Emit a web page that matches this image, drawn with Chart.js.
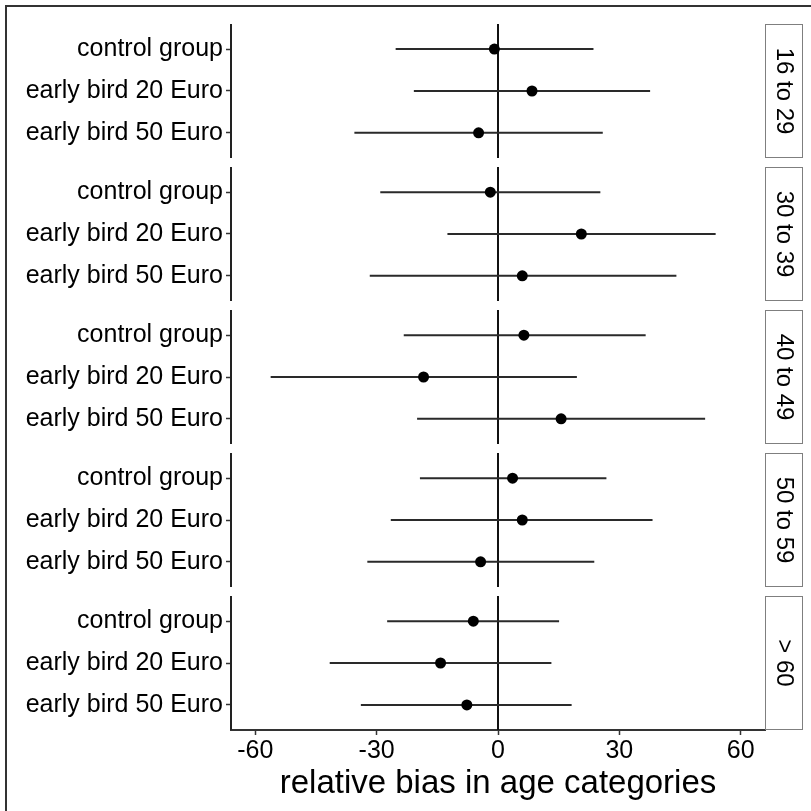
<!DOCTYPE html>
<html>
<head>
<meta charset="utf-8">
<script src="https://cdn.jsdelivr.net/npm/chart.js@4.4.0/dist/chart.umd.min.js"></script>
<style>
body { margin: 0; background: #fff; }
#wrap { position: relative; width: 811px; height: 811px; }
</style>
</head>
<body>
<div id="wrap"><canvas id="myChart" width="811" height="811"></canvas></div>
<script>
// facet rows (age categories) and the groups inside each facet
var ageGroups = ['16 to 29', '30 to 39', '40 to 49', '50 to 59', '> 60']
var groups = ['control group', 'early bird 20 Euro', 'early bird 50 Euro']

// values per facet, in the order of groups
var estimate = [
    -0.9, 8.4, -4.8,
    -1.9, 20.6, 6.0,
    6.4, -18.4, 15.6,
    3.6, 6.0, -4.3,
    -6.1, -14.2, -7.7
]
var lower = [
    -25.3, -20.8, -35.5,
    -29.1, -12.5, -31.7,
    -23.3, -56.2, -20.0,
    -19.3, -26.5, -32.3,
    -27.4, -41.6, -33.9
]
var upper = [
    23.6, 37.6, 25.9,
    25.3, 53.8, 44.1,
    36.5, 19.5, 51.2,
    26.8, 38.2, 23.8,
    15.1, 13.2, 18.2
]
var xTicks = [-60, -30, 0, 30, 60]

// facet layout on the y scale (units of one row)
var PANEL = 3.2
var GAP = 0.215
var TOTAL = ageGroups.length * PANEL + (ageGroups.length - 1) * GAP

Chart.defaults.font.family = "'Liberation Sans', Arial, sans-serif"

function panelStart(p) { return p * (PANEL + GAP) }
function rowY(i) { return panelStart(Math.floor(i / 3)) + 0.6 + (i % 3) }

var points = estimate.map((v, i) => ({ x: v, y: rowY(i) }))
var bars = []
lower.forEach((lo, i) => {
    bars.push({ x: lo, y: rowY(i) }, { x: upper[i], y: rowY(i) }, { x: 0, y: null })
})
var zeroLine = []
ageGroups.forEach((g, p) => {
    zeroLine.push({ x: 0, y: panelStart(p) }, { x: 0, y: panelStart(p) + PANEL }, { x: 0, y: null })
})
var rowTicks = estimate.map((v, i) => rowY(i))

var facetPlugin = {
    id: 'facets',
    beforeDraw(chart) {
        let c = chart.ctx
        c.save()
        c.strokeStyle = '#333'
        c.lineWidth = 2
        c.beginPath()
        c.moveTo(6, 811); c.lineTo(6, 6); c.lineTo(811, 6)
        c.stroke()
        c.restore()
    },
    afterDraw(chart) {
        let c = chart.ctx
        let y = chart.scales.y
        let area = chart.chartArea
        c.save()
        ageGroups.forEach((name, p) => {
            let top = y.getPixelForValue(panelStart(p))
            let bot = y.getPixelForValue(panelStart(p) + PANEL)
            // left axis line of the panel
            c.strokeStyle = '#222'
            c.lineWidth = 2
            c.beginPath()
            c.moveTo(area.left, top); c.lineTo(area.left, bot)
            c.stroke()
            // strip on the right
            c.strokeStyle = '#7f7f7f'
            c.lineWidth = 1
            c.fillStyle = '#fff'
            c.fillRect(area.right + 0.5, top + 0.5, 37, bot - top - 1)
            c.strokeRect(area.right + 0.5, top + 0.5, 37, bot - top - 1)
            c.fillStyle = '#000'
            c.font = "24px 'Liberation Sans', Arial, sans-serif"
            c.textAlign = 'center'
            c.textBaseline = 'middle'
            c.translate(area.right + 19, (top + bot) / 2)
            c.rotate(Math.PI / 2)
            c.fillText(name, 0, 0)
            c.setTransform(1, 0, 0, 1, 0, 0)
        })
        c.restore()
    }
}

var ctx = document.getElementById('myChart').getContext('2d')
var myChart = new Chart(ctx, {
    type: 'scatter',
    data: {
        datasets: [
            {
                data: points,
                backgroundColor: '#000',
                borderWidth: 0,
                pointRadius: 5.5
            },
            {
                data: bars,
                showLine: true,
                borderColor: '#2a2a2a',
                borderWidth: 2,
                pointRadius: 0,
                spanGaps: false
            },
            {
                data: zeroLine,
                showLine: true,
                borderColor: '#111',
                borderWidth: 2,
                pointRadius: 0,
                spanGaps: false
            }
        ]
    },
    options: {
        responsive: false,
        animation: false,
        devicePixelRatio: 1,
        layout: { padding: { top: 24, right: 46, left: 0, bottom: 0 } },
        plugins: { legend: { display: false }, tooltip: { enabled: false } },
        scales: {
            x: {
                type: 'linear',
                min: -66,
                max: 66,
                afterBuildTicks: a => { a.ticks = xTicks.map(v => ({ value: v })) },
                afterFit: s => { s.height = 81 },
                grid: { drawOnChartArea: false, color: '#333', tickLength: 5, tickWidth: 1.5 },
                border: { color: '#333', width: 2 },
                ticks: { color: '#000', font: { size: 25 }, padding: 1 },
                title: {
                    display: true,
                    text: 'relative bias in age categories',
                    color: '#000',
                    font: { size: 33 },
                    padding: { top: 0, bottom: 7 }
                }
            },
            y: {
                type: 'linear',
                reverse: true,
                min: 0,
                max: TOTAL,
                afterBuildTicks: a => { a.ticks = rowTicks.map(v => ({ value: v })) },
                afterFit: s => { s.width = 231 },
                grid: { drawOnChartArea: false, color: '#333', tickLength: 5, tickWidth: 1.5 },
                border: { display: false },
                ticks: {
                    autoSkip: false,
                    color: '#000',
                    font: { size: 25 },
                    padding: 3,
                    callback: (v, i) => groups[i % 3]
                }
            }
        }
    },
    plugins: [facetPlugin]
})
</script>
</body>
</html>
